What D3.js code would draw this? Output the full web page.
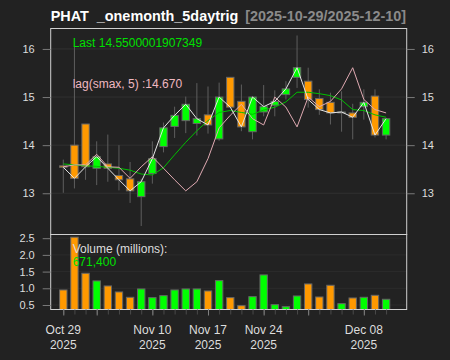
<!DOCTYPE html>
<html>
<head>
<meta charset="utf-8">
<script src="https://cdn.jsdelivr.net/npm/d3@7"></script>
<style>
  html, body { margin: 0; padding: 0; background: #222222; }
  svg { display: block; }
  text { font-family: "Liberation Sans", Arial, Helvetica, sans-serif; }
</style>
</head>
<body>
<svg id="chart" width="450" height="360"></svg>
<script>
// ---------------- data ----------------
const dates = ["2025-10-29","2025-10-30","2025-10-31","2025-11-03","2025-11-04","2025-11-05","2025-11-06","2025-11-07",
  "2025-11-10","2025-11-11","2025-11-12","2025-11-13","2025-11-14","2025-11-17","2025-11-18","2025-11-19","2025-11-20","2025-11-21",
  "2025-11-24","2025-11-25","2025-11-26","2025-11-28","2025-12-01","2025-12-02","2025-12-03","2025-12-04","2025-12-05",
  "2025-12-08","2025-12-09","2025-12-10"];
const open  = [13.57,14.00,14.44,13.52,13.61,13.37,13.30,12.93,13.41,13.97,14.39,14.51,14.45,14.63,14.13,15.41,14.91,14.28,14.69,14.83,15.05,15.41,15.33,14.97,14.89,14.68,14.67,14.80,15.02,14.21];
const high  = [13.70,16.05,14.44,14.08,14.22,14.00,13.65,13.30,14.08,14.47,14.80,15.01,15.29,15.22,15.30,15.41,15.26,15.02,15.25,15.14,15.33,16.28,15.61,15.16,15.09,15.12,14.86,15.16,15.16,14.55];
const low   = [13.01,13.10,13.28,13.17,13.24,13.06,12.80,12.32,13.20,13.85,14.15,14.25,14.20,14.24,14.09,14.79,14.29,14.12,14.60,14.60,14.95,15.19,14.78,14.63,14.43,14.28,14.12,14.53,14.16,14.12];
const close = [13.54,13.31,13.55,13.76,13.52,13.28,13.05,13.24,13.72,14.36,14.62,14.85,14.55,14.42,15.00,14.79,14.38,15.00,14.80,14.91,15.17,15.61,14.95,14.74,14.67,14.69,14.58,14.89,14.21,14.55];
const lagSmax = [13.55,13.59,13.59,13.81,13.55,13.54,13.31,13.55,13.76,13.52,13.28,13.05,13.24,13.72,14.36,14.62,14.85,14.55,14.42,15.00,14.79,14.38,15.00,14.80,14.91,15.17,15.61,14.95,14.74,14.67];
const trigLine = [13.61,13.59,13.57,13.56,13.54,13.52,13.48,13.40,13.38,13.53,13.80,14.06,14.30,14.51,14.68,14.72,14.68,14.64,14.73,14.79,14.90,15.10,15.10,15.07,15.03,14.94,14.74,14.72,14.63,14.58];
const volume = [0.95,2.53,1.45,1.22,1.07,0.89,0.73,0.98,0.72,0.78,0.95,0.98,0.98,0.92,1.23,0.72,0.48,0.75,1.40,0.51,0.45,0.77,1.13,0.74,1.09,0.54,0.71,0.73,0.79,0.6714];
const priceTicks = [13, 14, 15, 16];
const volTicks = [0.5, 1.0, 1.5, 2.0, 2.5];
const majorTickDates = ["2025-10-29","2025-11-03","2025-11-10","2025-11-17","2025-11-24","2025-12-01","2025-12-08"];
const labelDates = ["2025-10-29","2025-11-10","2025-11-17","2025-11-24","2025-12-08"];
const labelText = [["Oct 29","2025"],["Nov 10","2025"],["Nov 17","2025"],["Nov 24","2025"],["Dec 08","2025"]];
const titleMain = "PHAT  _onemonth_5daytrig";
const titleRange = "[2025-10-29/2025-12-10]";

// ---------------- layout ----------------
const L = 50.7, R = 406.7, mainTop = 28.5, mainBot = 234.5, volBot = 309.5;
const upCol = "#00FF00", dnCol = "#FF9900", border = "#666666";

const svg = d3.select("#chart");
svg.append("rect").attr("width", 450).attr("height", 360).attr("fill", "#222222");

const x = d3.scalePoint().domain(dates).range([63.3, 386.1]);
const y = d3.scaleLinear().domain([12.143, 16.425]).range([mainBot, mainTop]);
const yv = d3.scaleLinear().domain([0.365, 2.61]).range([volBot, mainBot]);

const rows = dates.map((d, i) => ({ d, o: open[i], h: high[i], l: low[i], c: close[i], v: volume[i], lag: lagSmax[i], t: trigLine[i] }));

// grid lines
svg.append("g").selectAll("line").data(priceTicks).join("line")
  .attr("x1", L).attr("x2", R).attr("y1", d => y(d)).attr("y2", d => y(d))
  .attr("stroke", "#313131").attr("stroke-width", 1);
svg.append("g").selectAll("line").data(volTicks).join("line")
  .attr("x1", L).attr("x2", R).attr("y1", d => yv(d)).attr("y2", d => yv(d))
  .attr("stroke", "#2c2c2c").attr("stroke-width", 1);

// clip
svg.append("clipPath").attr("id", "clipMain").append("rect")
  .attr("x", L).attr("y", mainTop).attr("width", R - L).attr("height", mainBot - mainTop);

const main = svg.append("g").attr("clip-path", "url(#clipMain)");
const bw = 7.4;
// wicks
main.append("g").selectAll("line").data(rows).join("line")
  .attr("x1", d => x(d.d)).attr("x2", d => x(d.d))
  .attr("y1", d => y(d.h)).attr("y2", d => y(d.l))
  .attr("stroke", "#5e5e5e").attr("stroke-width", 1);
// bodies
main.append("g").selectAll("rect").data(rows).join("rect")
  .attr("x", d => x(d.d) - bw / 2)
  .attr("y", d => y(Math.max(d.o, d.c)))
  .attr("width", bw)
  .attr("height", d => Math.max(1, Math.abs(y(d.o) - y(d.c))))
  .attr("fill", d => d.c >= d.o ? upCol : dnCol)
  .attr("stroke", border).attr("stroke-width", 1);

// lines
const lineOf = key => d3.line().x(d => x(d.d)).y(d => y(d[key]));
main.append("path").datum(rows).attr("d", lineOf("t"))
  .attr("fill", "none").attr("stroke", "#00c000").attr("stroke-width", 1);
main.append("path").datum(rows).attr("d", lineOf("lag"))
  .attr("fill", "none").attr("stroke", "#e0aab2").attr("stroke-width", 1);
main.append("path").datum(rows).attr("d", lineOf("c"))
  .attr("fill", "none").attr("stroke", "#e6e6e6").attr("stroke-width", 1);

// volume bars
const vw = 7.4;
svg.append("g").selectAll("rect").data(rows).join("rect")
  .attr("x", d => x(d.d) - vw / 2)
  .attr("y", d => yv(d.v))
  .attr("width", vw)
  .attr("height", d => volBot - yv(d.v))
  .attr("fill", d => d.c >= d.o ? upCol : dnCol)
  .attr("stroke", border).attr("stroke-width", 1);

// panel borders
svg.append("rect").attr("x", L).attr("y", mainTop).attr("width", R - L).attr("height", mainBot - mainTop)
  .attr("fill", "none").attr("stroke", "#d0d0d0").attr("stroke-width", 1);
svg.append("rect").attr("x", L).attr("y", mainBot).attr("width", R - L).attr("height", volBot - mainBot)
  .attr("fill", "none").attr("stroke", "#d0d0d0").attr("stroke-width", 1);

// axes
function styleAxis(g, size) {
  g.select(".domain").remove();
  g.selectAll(".tick line").attr("stroke", "#7a7a7a");
  g.selectAll(".tick text").attr("fill", "#dddddd").attr("font-size", size)
    .attr("font-family", "'Liberation Sans', Arial, sans-serif");
}
svg.append("g").attr("transform", `translate(${R},0)`)
  .call(d3.axisRight(y).tickValues(priceTicks).tickSize(8).tickPadding(7).tickFormat(d3.format("d")))
  .call(g => styleAxis(g, 11));
svg.append("g").attr("transform", `translate(${L},0)`)
  .call(d3.axisLeft(y).tickValues(priceTicks).tickSize(8).tickPadding(8).tickFormat(d3.format("d")))
  .call(g => styleAxis(g, 11));
svg.append("g").attr("transform", `translate(${L},0)`)
  .call(d3.axisLeft(yv).tickValues(volTicks).tickSize(8).tickPadding(8).tickFormat(d3.format(".1f")))
  .call(g => styleAxis(g, 11));

// x axis ticks
svg.append("g").attr("transform", `translate(0,${volBot})`)
  .call(d3.axisBottom(x).tickValues(dates).tickSize(5).tickFormat(""))
  .call(g => { g.select(".domain").remove(); g.selectAll(".tick line").attr("stroke", "#4a4a4a"); });
svg.append("g").attr("transform", `translate(0,${volBot})`)
  .call(d3.axisBottom(x).tickValues(majorTickDates).tickSize(6).tickFormat(""))
  .call(g => { g.select(".domain").remove(); g.selectAll(".tick line").attr("stroke", "#808080"); });

const xl = svg.append("g").selectAll("text").data(labelDates).join("text")
  .attr("x", d => x(d)).attr("text-anchor", "middle")
  .attr("fill", "#dddddd").attr("font-size", 12);
xl.append("tspan").attr("x", d => x(d)).attr("y", 334).text((d, i) => labelText[i][0]);
xl.append("tspan").attr("x", d => x(d)).attr("y", 349).text((d, i) => labelText[i][1]);

// title
svg.append("text").attr("x", L).attr("y", 20.5).attr("fill", "#ffffff")
  .attr("font-size", 14.4).attr("font-weight", "bold").style("white-space", "pre").text(titleMain);
svg.append("text").attr("x", R - 0.7).attr("y", 20.5).attr("text-anchor", "end").attr("fill", "#8a8a8a")
  .attr("font-size", 14.4).attr("font-weight", "bold").text(titleRange);

// legends
svg.append("text").attr("x", 72.7).attr("y", 46.7).attr("fill", "#00e000").attr("font-size", 12)
  .text("Last " + "14.5500001907349");
svg.append("text").attr("x", 72.7).attr("y", 87.7).attr("fill", "#f0b8c0").attr("font-size", 12)
  .text("lag(smax, 5) :" + d3.format(".3f")(lagSmax[lagSmax.length - 1]));
svg.append("text").attr("x", 72.7).attr("y", 252.7).attr("fill", "#dddddd").attr("font-size", 12)
  .text("Volume (millions):");
svg.append("text").attr("x", 72.7).attr("y", 266).attr("fill", "#00e000").attr("font-size", 12)
  .text(d3.format(",")(Math.round(volume[volume.length - 1] * 1e6)));
</script>
</body>
</html>
